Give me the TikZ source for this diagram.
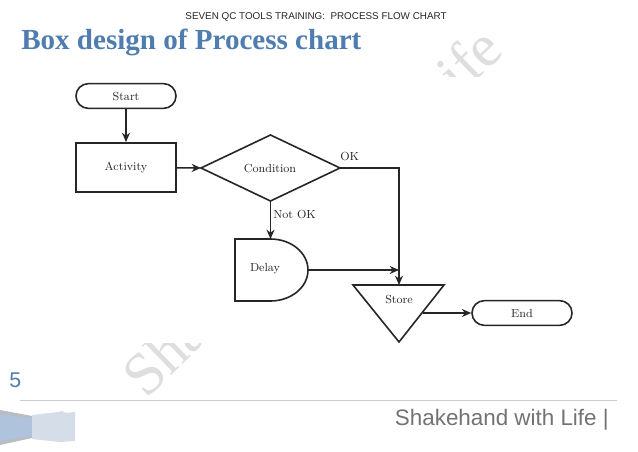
\documentclass[tikz,border=0pt]{standalone}
\usepackage{fontspec}
\newfontfamily\hdfont{Liberation Sans}
\newfontfamily\ttlfont{Liberation Serif}
\usetikzlibrary{arrows.meta,shapes.geometric}
\definecolor{titleblue}{HTML}{4F7DB0}
\definecolor{bandblue}{HTML}{AFC3DC}
\definecolor{bandgrey}{HTML}{B9BDC2}
\definecolor{bandlight}{HTML}{D5DDE8}
\tikzset{
  x=0.75pt,y=-0.75pt,
  flowline/.style={draw=black!85,line width=1.2pt},
  arrowline/.style={flowline,-{Stealth[length=7pt,width=6pt]}},
  shapeline/.style={draw=black!85,line width=1.2pt},
  lbl/.style={font=\fontsize{8.8}{10}\selectfont,text=black!85,inner sep=0pt},
}
\begin{document}
\begin{tikzpicture}
\useasboundingbox (0,0) rectangle (638,452);
\fill[white] (0,0) rectangle (638,452);
% watermark, partly hidden by the chart
\node[rotate=44,anchor=base west,inner sep=0pt,text=black!13,font=\ttlfont\fontsize{45}{50}\selectfont] (wm) at (146,400) {Shakehand with Life};
\fill[white] (55,77) rectangle (600,343);
% header
\node[anchor=base,inner sep=0pt,font=\hdfont\fontsize{7.4}{9}\selectfont,text=black!85] (head) at (316,20) {SEVEN QC TOOLS TRAINING:\ \ PROCESS FLOW CHART};
\node[anchor=base west,inner sep=0pt,font=\ttlfont\bfseries\fontsize{21.8}{24}\selectfont,text=titleblue] (title) at (21,50) {Box design of Process chart};
% chart
\node[shapeline,rounded corners=9.2pt,minimum width=75pt,minimum height=18.5pt,inner sep=0pt,lbl] (start) at (126,96) {Start};
\node[shapeline,minimum width=75pt,minimum height=37pt,inner sep=0pt,lbl] (activity) at (126,167.5) {Activity};
\coordinate (condL) at (201,168);
\coordinate (condR) at (340,168);
\coordinate (condT) at (270.5,135);
\coordinate (condB) at (270.5,201);
\draw[shapeline,line join=miter] (condL) -- (condT) -- (condR) -- (condB) -- cycle;
\node[lbl] (cond) at (270,168) {Condition};
\coordinate (delayT) at (270.5,239);
\draw[shapeline] (235,239) -- (delayT) arc[start angle=-90,end angle=90,x radius=37.5,y radius=31] -- (235,301) -- cycle;
\coordinate (delayR) at (308,270);
\node[lbl] (delay) at (265,269) {Delay};
\coordinate (storeT) at (399,285);
\draw[shapeline] (353,285) -- (444,285) -- (399,342) -- cycle;
\coordinate (storeR) at (423,313);
\node[lbl] (store) at (399,299) {Store};
\node[shapeline,rounded corners=9.2pt,minimum width=75pt,minimum height=18.5pt,inner sep=0pt,lbl] (end) at (522,313) {End};
\draw[arrowline] (start) -- (activity);
\draw[arrowline] (activity) -- (condL);
\draw[arrowline] (condB) -- (delayT);
\draw[arrowline] (condR) -- (399,168) -- (storeT);
\coordinate (delayEnd) at (399,270);
\draw[arrowline] (delayR) -- (delayEnd);
\draw[arrowline] (storeR) -- (end);
\node[lbl,anchor=base west] (ok) at (340,161) {OK};
\node[lbl,anchor=base west] (notok) at (273,219) {Not OK};
% footer
\node[anchor=base west,inner sep=0pt,font=\hdfont\fontsize{16}{18}\selectfont,text=titleblue] (page) at (9,387) {5};
\coordinate (ruleL) at (20,400);
\coordinate (ruleR) at (617,400);
\draw[black!20,line width=0.5pt] (ruleL) -- (ruleR);
\node[anchor=base east,inner sep=0pt,font=\hdfont\fontsize{16.8}{20}\selectfont,text=black!55] (brand) at (609,425) {Shakehand with Life |};
% corner tab
\fill[bandgrey] (0,410) -- (32,416) -- (32,438) -- (0,445) -- cycle;
\fill[bandblue] (0,414) -- (32,418) -- (32,436) -- (0,441) -- cycle;
\fill[bandlight] (32,415) -- (58,412) -- (62,411) -- (66,413) -- (75,412) -- (75,441) -- (60,442) -- (32,439) -- cycle;
\end{tikzpicture}
\end{document}
